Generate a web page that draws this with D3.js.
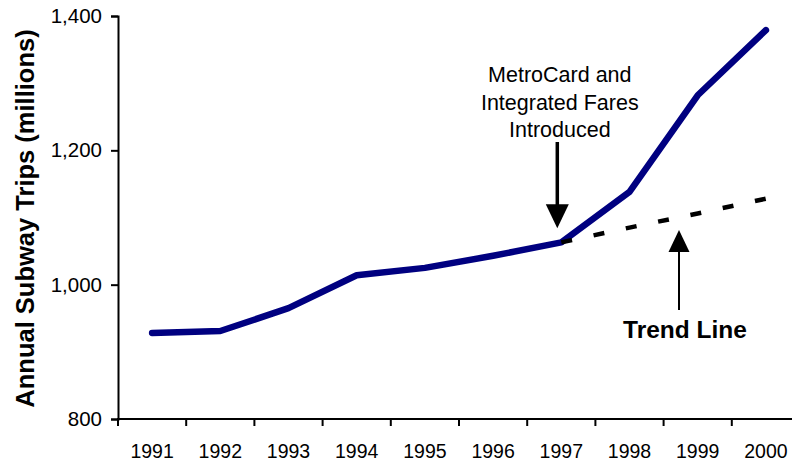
<!DOCTYPE html>
<html>
<head>
<meta charset="utf-8">
<script src="https://cdn.jsdelivr.net/npm/d3@7"></script>
<style>
  html, body { margin: 0; padding: 0; background: #fff; }
  svg { display: block; font-family: "Liberation Sans", Arial, Helvetica, sans-serif; }
</style>
</head>
<body>
<svg id="chart" width="792" height="462"></svg>
<script>
// Annual subway ridership, millions of trips
const years = [1991, 1992, 1993, 1994, 1995, 1996, 1997, 1998, 1999, 2000];
const trips = [928, 931, 965, 1014, 1025, 1043, 1063, 1138, 1282, 1379];

// Pre-MetroCard trend projected forward from 1997
const trendYears = [1997, 1998, 1999, 2000];
const trendTrips = [1063, 1085, 1106, 1128];

const yTicks = [800, 1000, 1200, 1400];

const annotationText = ["MetroCard and", "Integrated Fares", "Introduced"];
const trendLabel = "Trend Line";
const yTitle = "Annual Subway Trips (millions)";

const svg = d3.select("#chart");
const W = 792, H = 462;

const x = d3.scaleBand().domain(years).range([118, 800]).padding(0);
const y = d3.scaleLinear().domain([800, 1400]).range([419, 16]);
const cx = d => x(d) + x.bandwidth() / 2;

// Y axis
const yAxis = svg.append("g")
  .attr("transform", `translate(${x.range()[0]},0)`)
  .call(d3.axisLeft(y).tickValues(yTicks).tickSize(7).tickPadding(9)
    .tickFormat(d3.format(",")));
yAxis.select(".domain").attr("stroke", "#000").attr("stroke-width", 2);
yAxis.selectAll(".tick line").attr("stroke", "#000").attr("stroke-width", 2);
yAxis.selectAll(".tick text").attr("font-size", 20.5).attr("fill", "#000")
  .attr("font-family", "'Liberation Sans', Arial, sans-serif");

// X axis: labels centred in each band, ticks on band boundaries
const xAxis = svg.append("g")
  .attr("transform", `translate(0,${y(800)})`)
  .call(d3.axisBottom(x).tickSize(0).tickPadding(25));
xAxis.select(".domain").remove();
xAxis.selectAll(".tick text").attr("font-size", 19.5).attr("fill", "#000")
  .attr("font-family", "'Liberation Sans', Arial, sans-serif");

svg.append("line")
  .attr("x1", x.range()[0] - 1).attr("x2", W)
  .attr("y1", y(800)).attr("y2", y(800))
  .attr("stroke", "#000").attr("stroke-width", 2);

svg.append("g").selectAll("line")
  .data(years)
  .join("line")
  .attr("x1", d => x(d)).attr("x2", d => x(d))
  .attr("y1", y(800)).attr("y2", y(800) + 7)
  .attr("stroke", "#000").attr("stroke-width", 2);

// Y axis title
svg.append("text")
  .attr("transform", `translate(34,${(y(800) + y(1400)) / 2 + 1}) rotate(-90)`)
  .attr("text-anchor", "middle")
  .attr("font-size", 25.5)
  .attr("font-weight", "bold")
  .attr("fill", "#000")
  .text(yTitle);

// Ridership line
const line = d3.line().x(d => cx(d[0])).y(d => y(d[1]));

svg.append("path")
  .datum(d3.zip(years, trips))
  .attr("d", line)
  .attr("fill", "none")
  .attr("stroke", "#000080")
  .attr("stroke-width", 6.5)
  .attr("stroke-linejoin", "round")
  .attr("stroke-linecap", "round");

// Trend line (dashed)
svg.append("path")
  .datum(d3.zip(trendYears, trendTrips))
  .attr("d", line)
  .attr("fill", "none")
  .attr("stroke", "#000")
  .attr("stroke-width", 4.5)
  .attr("stroke-dasharray", "11 22");

// Annotation: MetroCard introduction
const ax = cx(1997) - 4;
const at = svg.append("text")
  .attr("text-anchor", "middle")
  .attr("font-size", 21.5)
  .attr("fill", "#000");
annotationText.forEach((t, i) => {
  at.append("tspan").attr("x", ax + 2.5).attr("y", 82 + i * 27.5).text(t);
});

const tip1 = y(trips[6]) - 14;
svg.append("line")
  .attr("x1", ax).attr("x2", ax)
  .attr("y1", 142).attr("y2", tip1 - 22)
  .attr("stroke", "#000").attr("stroke-width", 3.5);
svg.append("path")
  .attr("d", `M${ax - 11.5},${tip1 - 24} L${ax + 11.5},${tip1 - 24} L${ax},${tip1} Z`)
  .attr("fill", "#000");

// Annotation: trend line label
const tx = 679;
const tip2 = 230;
svg.append("line")
  .attr("x1", tx).attr("x2", tx)
  .attr("y1", 310).attr("y2", tip2 + 20)
  .attr("stroke", "#000").attr("stroke-width", 2);
svg.append("path")
  .attr("d", `M${tx - 10.5},${tip2 + 22} L${tx + 10.5},${tip2 + 22} L${tx},${tip2} Z`)
  .attr("fill", "#000");

svg.append("text")
  .attr("x", 685)
  .attr("y", 338)
  .attr("text-anchor", "middle")
  .attr("font-size", 24.5)
  .attr("font-weight", "bold")
  .attr("fill", "#000")
  .text(trendLabel);
</script>
</body>
</html>
